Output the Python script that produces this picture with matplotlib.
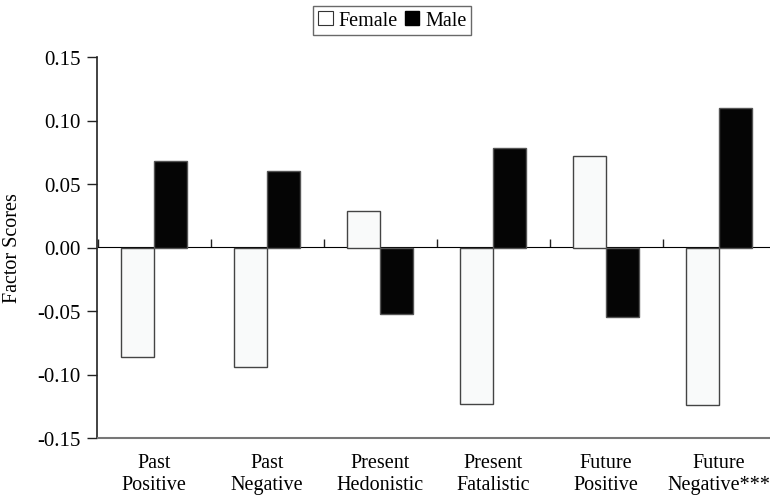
import matplotlib
matplotlib.use("Agg")
import matplotlib.pyplot as plt
from matplotlib.patches import Patch
import numpy as np

plt.rcParams['font.family'] = ['Liberation Serif', 'DejaVu Serif']

# datos
categorias = ["Past\nPositive", "Past\nNegative", "Present\nHedonistic",
              "Present\nFatalistic", "Future\nPositive", "Future\nNegative***"]
female = [-0.086, -0.094, 0.029, -0.123, 0.072, -0.124]
male = [0.068, 0.060, -0.052, 0.078, -0.055, 0.110]
yticks = [-0.15, -0.10, -0.05, 0.00, 0.05, 0.10, 0.15]

fig = plt.figure(figsize=(7.7, 5.02), dpi=100)
ax = fig.add_axes([97.5 / 770, 63 / 502, 678 / 770, 381 / 502])

x = np.arange(len(categorias))
ancho = 0.293
ax.bar(x - ancho / 2, female, ancho, color="#f9fafa", edgecolor="#444444", linewidth=1.0, label="Female")
ax.bar(x + ancho / 2, male, ancho, color="#050505", edgecolor="#555555", linewidth=1.0, label="Male")

ax.set_xlim(-0.5, len(categorias) - 0.5)
ax.set_ylim(-0.15, 0.15)
ax.set_yticks(yticks)
ax.set_yticklabels([f"{v:.2f}" for v in yticks], fontsize=15)
ax.tick_params(axis="y", direction="out", length=7, width=1, pad=5, colors="#222222", labelcolor="black")

# etiquetas de categorias abajo
ax.set_xticks(x)
ax.set_xticklabels(categorias, fontsize=14.5, linespacing=1.22)
ax.tick_params(axis="x", length=0, pad=11)

for lado in ["top", "right"]:
    ax.spines[lado].set_visible(False)
ax.spines["left"].set_color("#222222")
ax.spines["left"].set_linewidth(1.2)
ax.spines["bottom"].set_color("#777777")
ax.spines["bottom"].set_linewidth(1.5)

# eje del cero con marcas entre categorias
eje0 = ax.secondary_xaxis(0.5)
eje0.set_xticks(np.arange(len(categorias) + 1) - 0.5)
eje0.set_xticklabels([])
eje0.tick_params(direction="out", length=6, width=1, colors="#222222")
eje0.spines["bottom"].set_color("black")
eje0.spines["bottom"].set_linewidth(1.2)

ax.set_ylabel("Factor Scores", fontsize=14.5)
ax.yaxis.set_label_coords(-0.111, 0.5)

handles = [Patch(facecolor="white", edgecolor="#333333", linewidth=0.8, label="Female"),
           Patch(facecolor="black", edgecolor="black", label="Male")]
leg = fig.legend(handles=handles, loc="center", bbox_to_anchor=(0.5097, 0.958), ncol=2,
                 fontsize=14.5, handlelength=0.7, handleheight=0.7, handletextpad=0.3,
                 columnspacing=0.35, borderpad=0.25, fancybox=False, borderaxespad=0)
leg.get_frame().set_edgecolor("#444444")
leg.get_frame().set_linewidth(1.0)

fig.savefig("out.png", dpi=100)
